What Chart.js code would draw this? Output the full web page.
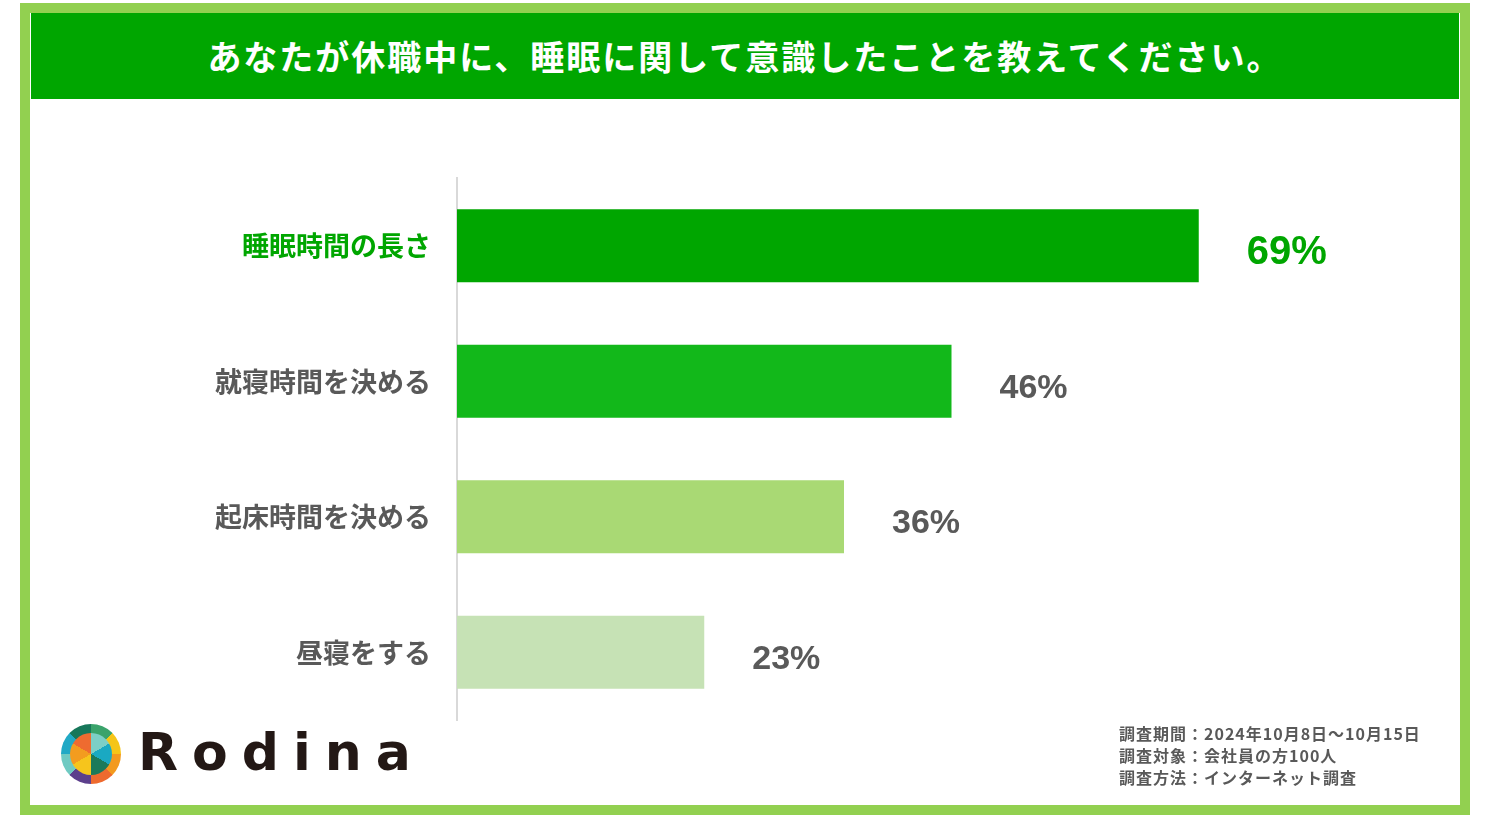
<!DOCTYPE html>
<html>
<head>
<meta charset="utf-8">
<script src="https://cdn.jsdelivr.net/npm/chart.js@4/dist/chart.umd.min.js"></script>
<style>
  body { margin: 0; width: 1489px; height: 827px; background: #fff; font-family: "Noto Sans CJK JP", sans-serif; position: relative; overflow: hidden; }
  .frame { position: absolute; left: 20px; top: 3px; width: 1430px; height: 792px; border: 10px solid #92d050; }
  .head { position: absolute; left: 31px; top: 13px; width: 1428px; height: 86px; background: #00a600; color: #fff; font-weight: bold; font-size: 34px; text-align: center; line-height: 86px; letter-spacing: 2px; }
  #wrap { position: absolute; left: 31px; top: 102px; width: 1428px; height: 700px; }
  .logo { position: absolute; left: 61px; top: 724px; width: 60px; height: 60px; border-radius: 50%;
    background: conic-gradient(#3aa36b 0 45deg, #f5c518 45deg 90deg, #f39a1e 90deg 135deg, #ee6a2f 135deg 180deg, #5c3f8c 180deg 225deg, #6fcac2 225deg 270deg, #21a9c5 270deg 315deg, #17775a 315deg 360deg); }
  .logo::after { content: ""; position: absolute; left: 9px; top: 9px; width: 42px; height: 42px; border-radius: 50%;
    background: conic-gradient(#7ccfc6 0 60deg, #1aa9c2 60deg 120deg, #1b7a5a 120deg 180deg, #f6c51c 180deg 240deg, #f39c1f 240deg 300deg, #ee6b30 300deg 360deg); }
  .brand { position: absolute; left: 138px; top: 722px; font-family: "DejaVu Sans", sans-serif; font-weight: bold; font-size: 52px; letter-spacing: 14px; color: #231815; }
  .note { position: absolute; left: 1119px; top: 722px; font-size: 16px; font-weight: bold; color: #595959; line-height: 22px; letter-spacing: 1px; }
</style>
</head>
<body>
<div class="frame"></div>
<div class="head">あなたが休職中に、睡眠に関して意識したことを教えてください。</div>
<div id="wrap"><canvas id="myChart"></canvas></div>
<div class="logo"></div>
<div class="brand">Rodina</div>
<div class="note">調査期間：2024年10月8日～10月15日<br>調査対象：会社員の方100人<br>調査方法：インターネット調査</div>
<script>
// 項目と割合
const categories = ["睡眠時間の長さ", "就寝時間を決める", "起床時間を決める", "昼寝をする"];
const values = [69, 46, 36, 23];
const barColors = ["#00a600", "#12b81a", "#a9d974", "#c6e2b5"];
const labelColors = ["#00a600", "#595959", "#595959", "#595959"];

// バーの右に数値を描く
const valueLabels = {
  id: "valueLabels",
  afterDatasetsDraw(chart) {
    const c = chart.ctx;
    const meta = chart.getDatasetMeta(0);
    c.save();
    c.textBaseline = "middle";
    c.textAlign = "left";
    meta.data.forEach((bar, i) => {
      c.fillStyle = labelColors[i];
      c.font = "bold " + (i === 0 ? 40 : 34) + "px 'Liberation Sans', sans-serif";
      c.fillText(values[i] + "%", bar.x + 48, bar.y + 7);
    });
    c.restore();
  },
};

const ctx = document.getElementById("myChart");
new Chart(ctx, {
  type: "bar",
  data: {
    labels: categories,
    datasets: [{
      data: values,
      backgroundColor: barColors,
      barPercentage: 0.54,
      categoryPercentage: 1,
    }],
  },
  options: {
    indexAxis: "y",
    responsive: true,
    maintainAspectRatio: false,
    animation: false,
    layout: { padding: { top: 76, bottom: 82, right: 142, left: 0 } },
    plugins: { legend: { display: false }, tooltip: { enabled: false } },
    scales: {
      x: { display: false, min: 0, max: 80 },
      y: {
        afterFit: (s) => { s.width = 426; },
        grid: { display: false },
        border: { color: "#d9d9d9", width: 2 },
        ticks: {
          padding: 18,
          color: (c) => labelColors[c.index],
          font: { size: 27, weight: "bold", family: "'Noto Sans CJK JP'" },
        },
      },
    },
  },
  plugins: [valueLabels],
});
</script>
</body>
</html>
